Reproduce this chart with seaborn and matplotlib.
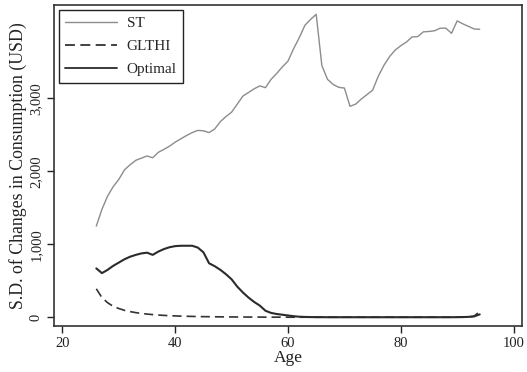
import numpy as np
import pandas as pd
import matplotlib
matplotlib.use("Agg")
import matplotlib.pyplot as plt
import seaborn as sns

ages = list(range(26, 95))

st = [1250, 1480, 1660, 1790, 1890, 2020, 2090, 2150, 2180, 2210,
      2185, 2260, 2300, 2345, 2400, 2445, 2490, 2530, 2560, 2555,
      2530, 2580, 2680, 2750, 2810, 2920, 3030, 3080, 3130, 3170,
      3145, 3260, 3340, 3430, 3510, 3680, 3830, 4000, 4080, 4150,
      3450, 3260, 3190, 3150, 3140, 2890, 2920, 2990, 3050, 3110,
      3300, 3450, 3570, 3660, 3720, 3770, 3840, 3845, 3910, 3915,
      3925, 3960, 3960, 3890, 4060, 4020, 3985, 3950, 3945]

glthi = [390, 270, 200, 150, 120, 95, 78, 64, 53, 44,
         37, 31, 26, 22, 19, 16, 14, 12, 10, 9,
         8, 7, 6, 5, 5, 4, 4, 3, 3, 3,
         2, 2, 2, 2, 1, 1, 1, 1, 1, 1,
         1, 1, 1, 1, 1, 1, 1, 1, 1, 1,
         1, 1, 1, 1, 1, 1, 1, 1, 1, 1,
         1, 1, 1, 1, 1, 2, 4, 15, 80]

optimal = [670, 605, 650, 705, 750, 795, 830, 855, 875, 885,
           855, 900, 935, 960, 975, 980, 980, 980, 955, 890,
           740, 700, 650, 590, 520, 420, 340, 270, 210, 160,
           90, 60, 45, 35, 25, 15, 8, 5, 3, 2,
           2, 1, 1, 1, 1, 1, 1, 1, 1, 1,
           1, 1, 1, 1, 1, 1, 1, 1, 1, 1,
           1, 1, 1, 1, 2, 3, 6, 12, 40]

series_names = ["ST", "GLTHI", "Optimal"]
x_ticks = [20, 40, 60, 80, 100]
y_ticks = [0, 1000, 2000, 3000]
y_tick_labels = ["0", "1,000", "2,000", "3,000"]

df = pd.DataFrame({
    "Age": ages * 3,
    "value": st + glthi + optimal,
    "series": ["ST"] * len(ages) + ["GLTHI"] * len(ages) + ["Optimal"] * len(ages),
})

sns.set_theme(style="white")
plt.rcParams["font.family"] = ["Liberation Serif", "DejaVu Serif"]

fig = plt.figure(figsize=(5.27, 3.72), dpi=100)
ax = fig.add_axes([0.1025, 0.1237, 0.888, 0.8629])

sns.lineplot(data=df, x="Age", y="value", hue="series", style="series",
             hue_order=series_names, style_order=series_names,
             palette={"ST": "#8c8c8c", "GLTHI": "#333333", "Optimal": "#2b2b2b"},
             dashes={"ST": "", "GLTHI": (5.5, 3), "Optimal": ""},
             linewidth=1.2, ax=ax)

for line, name in zip(ax.get_lines(), series_names):
    if name == "ST":
        line.set_linewidth(1.0)
    elif name == "Optimal":
        line.set_linewidth(1.5)

ax.set_xlim(18.5, 101.5)
ax.set_ylim(-119, 4278)
ax.set_xticks(x_ticks)
ax.set_yticks(y_ticks)
ax.set_yticklabels(y_tick_labels, rotation=90, va="center")
ax.tick_params(axis="both", which="both", direction="out", length=5, width=1,
               color="#222222", labelsize=10.5, labelcolor="#222222", pad=3,
               bottom=True, left=True)
ax.set_xlabel("Age", fontsize=12.5, color="#222222", labelpad=0)
ax.set_ylabel("S.D. of Changes in Consumption (USD)", fontsize=12.8, color="#222222", labelpad=2)
for s in ax.spines.values():
    s.set_color("#333333")
    s.set_linewidth(1.2)
ax.grid(False)

leg = ax.legend(loc="upper left", frameon=True, fontsize=11, handlelength=3.4,
                borderaxespad=0.3, labelspacing=0.6, fancybox=False,
                edgecolor="#222222", borderpad=0.45, handletextpad=0.6)
leg.get_frame().set_linewidth(1.0)
leg.get_frame().set_alpha(1)
for h, name in zip(leg.get_lines(), series_names):
    h.set_linewidth(1.0 if name == "ST" else 1.3)

fig.savefig("out.png", dpi=100, facecolor="white")
